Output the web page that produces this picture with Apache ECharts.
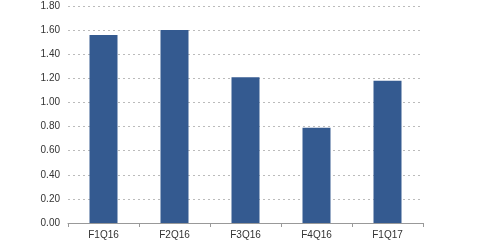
<!DOCTYPE html>
<html><head><meta charset="utf-8">
<script src="https://cdn.jsdelivr.net/npm/echarts@6/dist/echarts.min.js"></script>
<style>html,body{margin:0;padding:0;background:#fff}#c{width:480px;height:251px}</style>
</head><body><div id="c"></div>
<script>
const categories = ['F1Q16','F2Q16','F3Q16','F4Q16','F1Q17'];
const values = [1.56, 1.60, 1.21, 0.79, 1.18];
const chart = echarts.init(document.getElementById('c'));
chart.setOption({
  animation: false,
  grid: {left: 68, right: 57, top: 6, bottom: 28, containLabel: false},
  xAxis: {
    type: 'category', data: categories,
    axisLine: {lineStyle: {color: '#999'}},
    axisTick: {show: true, length: 4, lineStyle: {color: '#999'}},
    axisLabel: {color: '#333', fontFamily: 'Liberation Sans', fontSize: 10, margin: 7}
  },
  yAxis: {
    type: 'value', min: 0, max: 1.8, interval: 0.2,
    axisLine: {show: false}, axisTick: {show: false},
    axisLabel: {color: '#333', fontFamily: 'Liberation Sans', fontSize: 10, margin: 8,
      formatter: v => v.toFixed(2)},
    splitLine: {lineStyle: {color: '#bbb', type: [2, 3]}}
  },
  series: [{
    type: 'bar', data: values, barWidth: 28,
    itemStyle: {color: '#345a90'}
  }]
});
</script></body></html>
